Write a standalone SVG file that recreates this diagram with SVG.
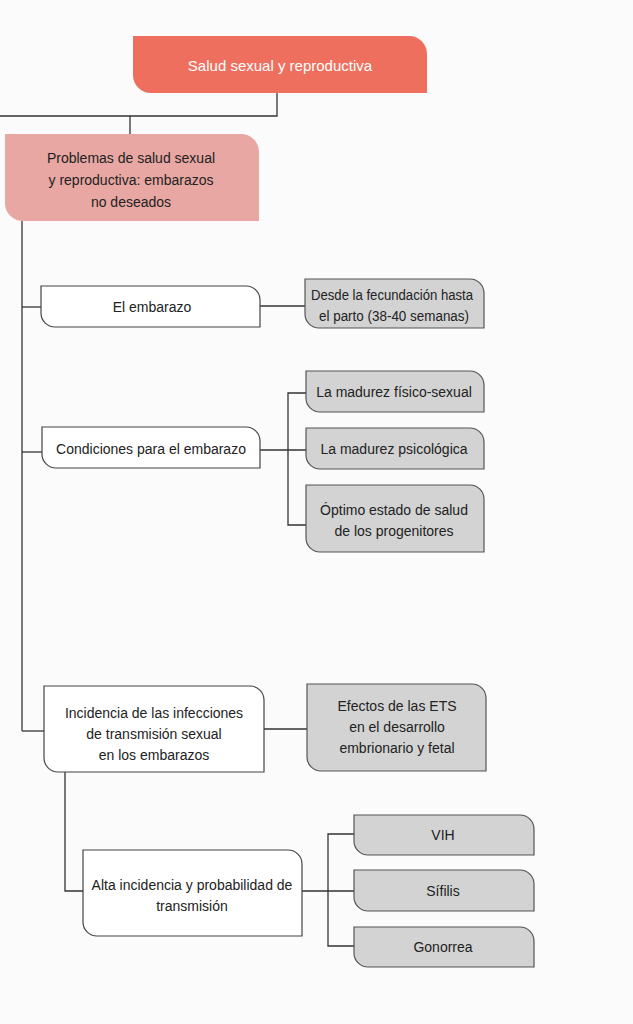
<svg xmlns="http://www.w3.org/2000/svg" width="633" height="1024" viewBox="0 0 633 1024">
<style>
  text { font-family: "Liberation Sans", Arial, sans-serif; font-size: 14px; fill: #222; text-anchor: middle; }
  .title { fill: #fff; font-size: 15px; }
  .white { fill: #fff; stroke: #444; stroke-width: 1.2; }
  .grey { fill: #d3d3d3; stroke: #555; stroke-width: 1.2; }
  .conn { fill: none; stroke: #333; stroke-width: 1.3; }
</style>
<rect width="633" height="1024" fill="#fbfbfb"/>

<g id="connectors" class="conn">
  <path d="M277,93 V116 H0"/>
  <path d="M130,116 V135"/>
  <path d="M22,221 V731"/>
  <path d="M22,307 H41"/>
  <path d="M260,306 H305"/>
  <path d="M22,452 H42"/>
  <path d="M260,450 H306"/>
  <path d="M306,393 H288 V525 H306"/>
  <path d="M22,731 H44"/>
  <path d="M264,729 H307"/>
  <path d="M65,772 V891 H83"/>
  <path d="M302,891 H354"/>
  <path d="M354,834 H328 V946 H354"/>
</g>

<g id="n-root">
  <path d="M133,36 H409 A18,18 0 0 1 427,54 V93 H151 A18,18 0 0 1 133,75 Z" fill="#ef6f5e"/>
  <text class="title" x="280" y="71">Salud sexual y reproductiva</text>
</g>

<g id="n-problemas">
  <path d="M5,134 H241 A18,18 0 0 1 259,152 V221 H23 A18,18 0 0 1 5,203 Z" fill="#e8a7a3"/>
  <text x="131" y="163">Problemas de salud sexual</text>
  <text x="131" y="185">y reproductiva: embarazos</text>
  <text x="131" y="207">no deseados</text>
</g>

<g id="n-embarazo">
  <path class="white" d="M41,286 H246 A14,14 0 0 1 260,300 V327 H55 A14,14 0 0 1 41,313 Z"/>
  <text x="152" y="312">El embarazo</text>
</g>

<g id="n-desde">
  <path class="grey" d="M305,279 H470 A14,14 0 0 1 484,293 V328 H319 A14,14 0 0 1 305,314 Z"/>
  <text x="392" y="300" textLength="162" lengthAdjust="spacingAndGlyphs">Desde la fecundación hasta</text>
  <text x="394" y="321" textLength="150" lengthAdjust="spacingAndGlyphs">el parto (38-40 semanas)</text>
</g>

<g id="n-condiciones">
  <path class="white" d="M42,427 H246 A14,14 0 0 1 260,441 V468 H56 A14,14 0 0 1 42,454 Z"/>
  <text x="151" y="454">Condiciones para el embarazo</text>
</g>

<g id="n-fisico">
  <path class="grey" d="M306,371 H470 A14,14 0 0 1 484,385 V412 H320 A14,14 0 0 1 306,398 Z"/>
  <text x="394" y="397">La madurez físico-sexual</text>
</g>

<g id="n-psico">
  <path class="grey" d="M306,428 H470 A14,14 0 0 1 484,442 V469 H320 A14,14 0 0 1 306,455 Z"/>
  <text x="394" y="454">La madurez psicológica</text>
</g>

<g id="n-optimo">
  <path class="grey" d="M306,485 H470 A14,14 0 0 1 484,499 V552 H320 A14,14 0 0 1 306,538 Z"/>
  <text x="394" y="515">Óptimo estado de salud</text>
  <text x="394" y="536">de los progenitores</text>
</g>

<g id="n-incidencia">
  <path class="white" d="M44,686 H250 A14,14 0 0 1 264,700 V772 H58 A14,14 0 0 1 44,758 Z"/>
  <text x="154" y="718">Incidencia de las infecciones</text>
  <text x="154" y="739">de transmisión sexual</text>
  <text x="154" y="760">en los embarazos</text>
</g>

<g id="n-efectos">
  <path class="grey" d="M307,684 H472 A14,14 0 0 1 486,698 V771 H321 A14,14 0 0 1 307,757 Z"/>
  <text x="397" y="711">Efectos de las ETS</text>
  <text x="397" y="732">en el desarrollo</text>
  <text x="397" y="753">embrionario y fetal</text>
</g>

<g id="n-alta">
  <path class="white" d="M83,850 H288 A14,14 0 0 1 302,864 V936 H97 A14,14 0 0 1 83,922 Z"/>
  <text x="192" y="890">Alta incidencia y probabilidad de</text>
  <text x="192" y="911">transmisión</text>
</g>

<g id="n-vih">
  <path class="grey" d="M354,815 H520 A14,14 0 0 1 534,829 V855 H368 A14,14 0 0 1 354,841 Z"/>
  <text x="443" y="840">VIH</text>
</g>

<g id="n-sifilis">
  <path class="grey" d="M354,870 H520 A14,14 0 0 1 534,884 V911 H368 A14,14 0 0 1 354,897 Z"/>
  <text x="443" y="896">Sífilis</text>
</g>

<g id="n-gonorrea">
  <path class="grey" d="M354,927 H520 A14,14 0 0 1 534,941 V967 H368 A14,14 0 0 1 354,953 Z"/>
  <text x="443" y="952">Gonorrea</text>
</g>
</svg>
